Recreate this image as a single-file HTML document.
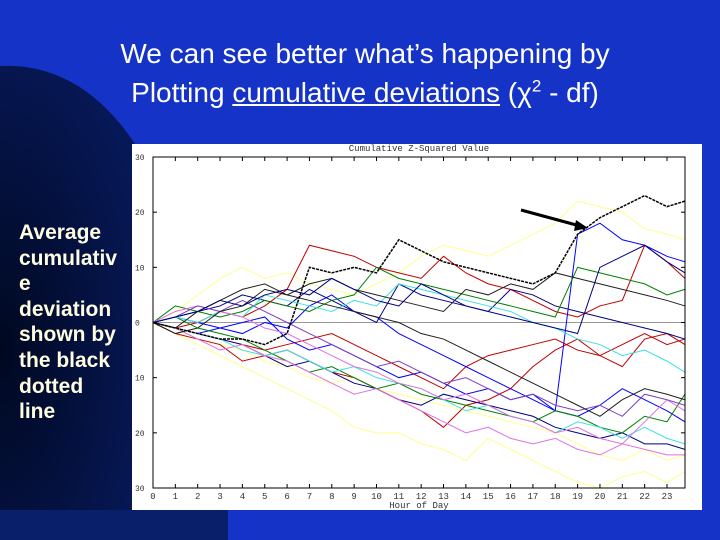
<!DOCTYPE html>
<html><head><meta charset="utf-8">
<style>
html,body{margin:0;padding:0;}
body{width:720px;height:540px;position:relative;overflow:hidden;background:#1633c8;font-family:"Liberation Sans",sans-serif;}
#title{position:absolute;left:0;top:34px;width:730px;text-align:center;color:#fff;font-size:28px;line-height:39px;}
#title sup{font-size:17px;line-height:0;}
#side{position:absolute;left:19px;top:220px;color:#fffde0;font-size:21px;font-weight:bold;line-height:25.6px;}
#panel{position:absolute;left:132px;top:144px;width:570px;height:366px;background:#fff;}
</style></head><body>
<svg width="720" height="540" style="position:absolute;left:0;top:0">
<defs><radialGradient id="g" cx="0" cy="0.6" r="1"><stop offset="0" stop-color="#000820"/><stop offset="1" stop-color="#0a1f70"/></radialGradient></defs>
<path d="M0,66 C120,60 210,200 228,540 L0,540 Z" fill="url(#g)"/>
<rect x="0" y="510" width="228" height="30" fill="#0a1f6a"/>
</svg>
<div id="title">We can see better what’s happening by<br>Plotting <u>cumulative deviations</u> (χ<sup>2</sup> - df)</div>
<div id="side">Average<br>cumulativ<br>e<br>deviation<br>shown by<br>the black<br>dotted<br>line</div>
<div id="panel"></div>
<svg id="chart" width="720" height="540" style="position:absolute;left:0;top:0"></svg>
<script>
const hours=[0,1,2,3,4,5,6,7,8,9,10,11,12,13,14,15,16,17,18,19,20,21,22,23,23.8];
const xTicks=["0","1","2","3","4","5","6","7","8","9","10","11","12","13","14","15","16","17","18","19","20","21","22","23"];
const yTicks=[30,20,10,0,-10,-20,-30];
const yTickLabels=["30","20","10","0","10","20","30"];
const avgSeries=[0,-1,-2,-3,-3,-4,-2,10,9,10,9,15,13,11,10,9,8,7,9,16,19,21,23,21,22];
const seriesColors=["#ffff90","#ffff90","#ffff90","#c00000","#c00000","#c00000","#000080","#000080","#0000ff","#0000ff","#008000","#008000","#40e0e0","#40e0e0","#e070e0","#e070e0","#8040c0","#202020","#202020","#000080"];
const s0=[0,2,5,8,10,8,9,7,6,5,7,9,12,14,13,12,14,16,18,22,21,20,17,16,15];
const s1=[0,-2,-4,-6,-8,-10,-12,-14,-16,-19,-20,-20,-22,-23,-25,-21,-23,-25,-27,-29,-30,-28,-27,-29,-27];
const s2=[0,-1,-3,-4,-5,-7,-8,-10,-11,-10,-12,-13,-14,-15,-16,-17,-18,-19,-20,-22,-24,-25,-23,-25,-24];
const s3=[0,-1,0,2,1,3,6,14,13,12,10,9,8,12,9,7,6,4,2,1,3,4,14,11,8];
const s4=[0,-2,-3,-4,-7,-6,-5,-7,-9,-10,-12,-14,-16,-19,-15,-14,-12,-8,-5,-3,-6,-4,-2,-4,-3];
const s5=[0,-1,-2,-3,-4,-5,-4,-3,-2,-4,-6,-8,-10,-12,-8,-6,-5,-4,-3,-5,-6,-8,-3,-2,-4];
const s6=[0,1,2,3,5,4,3,6,4,2,0,7,5,4,3,2,6,5,3,2,1,0,-1,-2,-3];
const s7=[0,-1,-2,-3,-4,-6,-8,-7,-9,-11,-12,-14,-15,-13,-14,-15,-16,-17,-19,-20,-21,-20,-22,-22,-23];
const s8=[0,1,0,-1,-2,0,-1,3,5,2,1,-2,-4,-6,-8,-10,-12,-14,-16,16,18,15,14,12,11];
const s9=[0,-1,-2,-1,0,1,-3,-5,-4,-6,-8,-10,-9,-11,-13,-12,-14,-13,-16,-17,-15,-12,-14,-16,-18];
const s10=[0,3,2,1,2,4,3,2,4,5,10,8,7,6,5,4,3,2,1,10,9,8,7,5,6];
const s11=[0,1,-1,-2,-3,-5,-7,-9,-8,-10,-12,-11,-13,-14,-15,-16,-17,-18,-16,-17,-19,-20,-17,-18,-13];
const s12=[0,1,0,2,1,5,4,3,2,4,3,7,6,5,4,3,2,0,-1,-3,-4,-6,-5,-7,-9];
const s13=[0,-1,-2,-3,-5,-6,-5,-7,-9,-8,-10,-11,-12,-14,-16,-15,-17,-18,-20,-18,-19,-21,-19,-21,-22];
const s14=[0,2,3,2,1,-1,-2,-4,-6,-8,-9,-11,-12,-14,-13,-15,-17,-18,-20,-19,-21,-22,-18,-14,-16];
const s15=[0,-1,-3,-5,-4,-6,-7,-9,-11,-13,-12,-14,-16,-18,-20,-19,-21,-22,-21,-23,-24,-22,-23,-24,-24];
const s16=[0,1,3,2,4,2,0,-2,-4,-6,-8,-7,-9,-11,-10,-12,-14,-13,-15,-16,-15,-17,-13,-14,-15];
const s17=[0,-2,-1,2,3,6,5,7,8,6,5,4,3,2,6,5,7,6,9,8,7,6,5,4,3];
const s18=[0,-1,2,4,6,7,5,4,3,2,1,0,-2,-3,-5,-7,-9,-11,-13,-15,-17,-14,-12,-13,-14];
const s19=[0,1,2,4,3,5,6,5,8,6,4,3,7,5,3,2,1,0,-1,-2,10,12,14,11,9];
const allSeries=[s0,s1,s2,s3,s4,s5,s6,s7,s8,s9,s10,s11,s12,s13,s14,s15,s16,s17,s18,s19];

const L=153,R=685,T=157,B=488;
const xs=h=>L+h*(667-L)/23;
const ys=v=>T+(30-v)*(B-T)/60;
const NS="http://www.w3.org/2000/svg";
const svg=document.getElementById('chart');
function mk(tag,attrs){const e=document.createElementNS(NS,tag);for(const k in attrs)e.setAttribute(k,attrs[k]);svg.appendChild(e);return e;}

const t=mk('text',{x:419,y:151,'font-size':9,'font-family':'Liberation Mono, monospace','text-anchor':'middle',fill:'#333'});
t.textContent='Cumulative Z-Squared Value';


const zl=mk('line',{x1:L,x2:R,y1:ys(0),y2:ys(0),stroke:'#999','stroke-width':1});



allSeries.forEach((s,i)=>{
  const p=mk('polyline',{points:s.map((v,j)=>xs(hours[j])+','+ys(v)).join(' '),fill:'none',stroke:seriesColors[i],'stroke-width':1});
  
  
});
const av=mk('polyline',{points:avgSeries.map((v,j)=>xs(hours[j])+','+ys(v)).join(' '),fill:'none',stroke:'#000','stroke-width':1.5,'stroke-dasharray':'3,1'});



const fr=mk('rect',{x:L,y:T,width:R-L,height:B-T,fill:'none',stroke:'#000','stroke-width':1});



xTicks.forEach((lab,i)=>{
  const x=xs(i);
  mk('line',{x1:x,x2:x,y1:B,y2:B-4,stroke:'#000'});
  mk('line',{x1:x,x2:x,y1:T,y2:T+4,stroke:'#000'});
  const e=mk('text',{x:x,y:B+11,'font-size':9,'font-family':'Liberation Mono, monospace','text-anchor':'middle',fill:'#333'});
  e.textContent=lab;
  
  
});
yTicks.forEach((v,i)=>{
  const y=ys(v);
  mk('line',{x1:L,x2:L+4,y1:y,y2:y,stroke:'#000'});
  mk('line',{x1:R,x2:R-4,y1:y,y2:y,stroke:'#000'});
  const e=mk('text',{x:135,y:y+3,'font-size':8,'font-family':'Liberation Mono, monospace',fill:'#333'});
  e.textContent=yTickLabels[i];
  
  
});
const xt=mk('text',{x:419,y:508,'font-size':9,'font-family':'Liberation Mono, monospace','text-anchor':'middle',fill:'#333'});
xt.textContent='Hour of Day';



const ar=mk('line',{x1:521,y1:210,x2:580,y2:226,stroke:'#000','stroke-width':3});


mk('polygon',{points:'588,228 576,220 574,231',fill:'#000'});
</script>
</body></html>
